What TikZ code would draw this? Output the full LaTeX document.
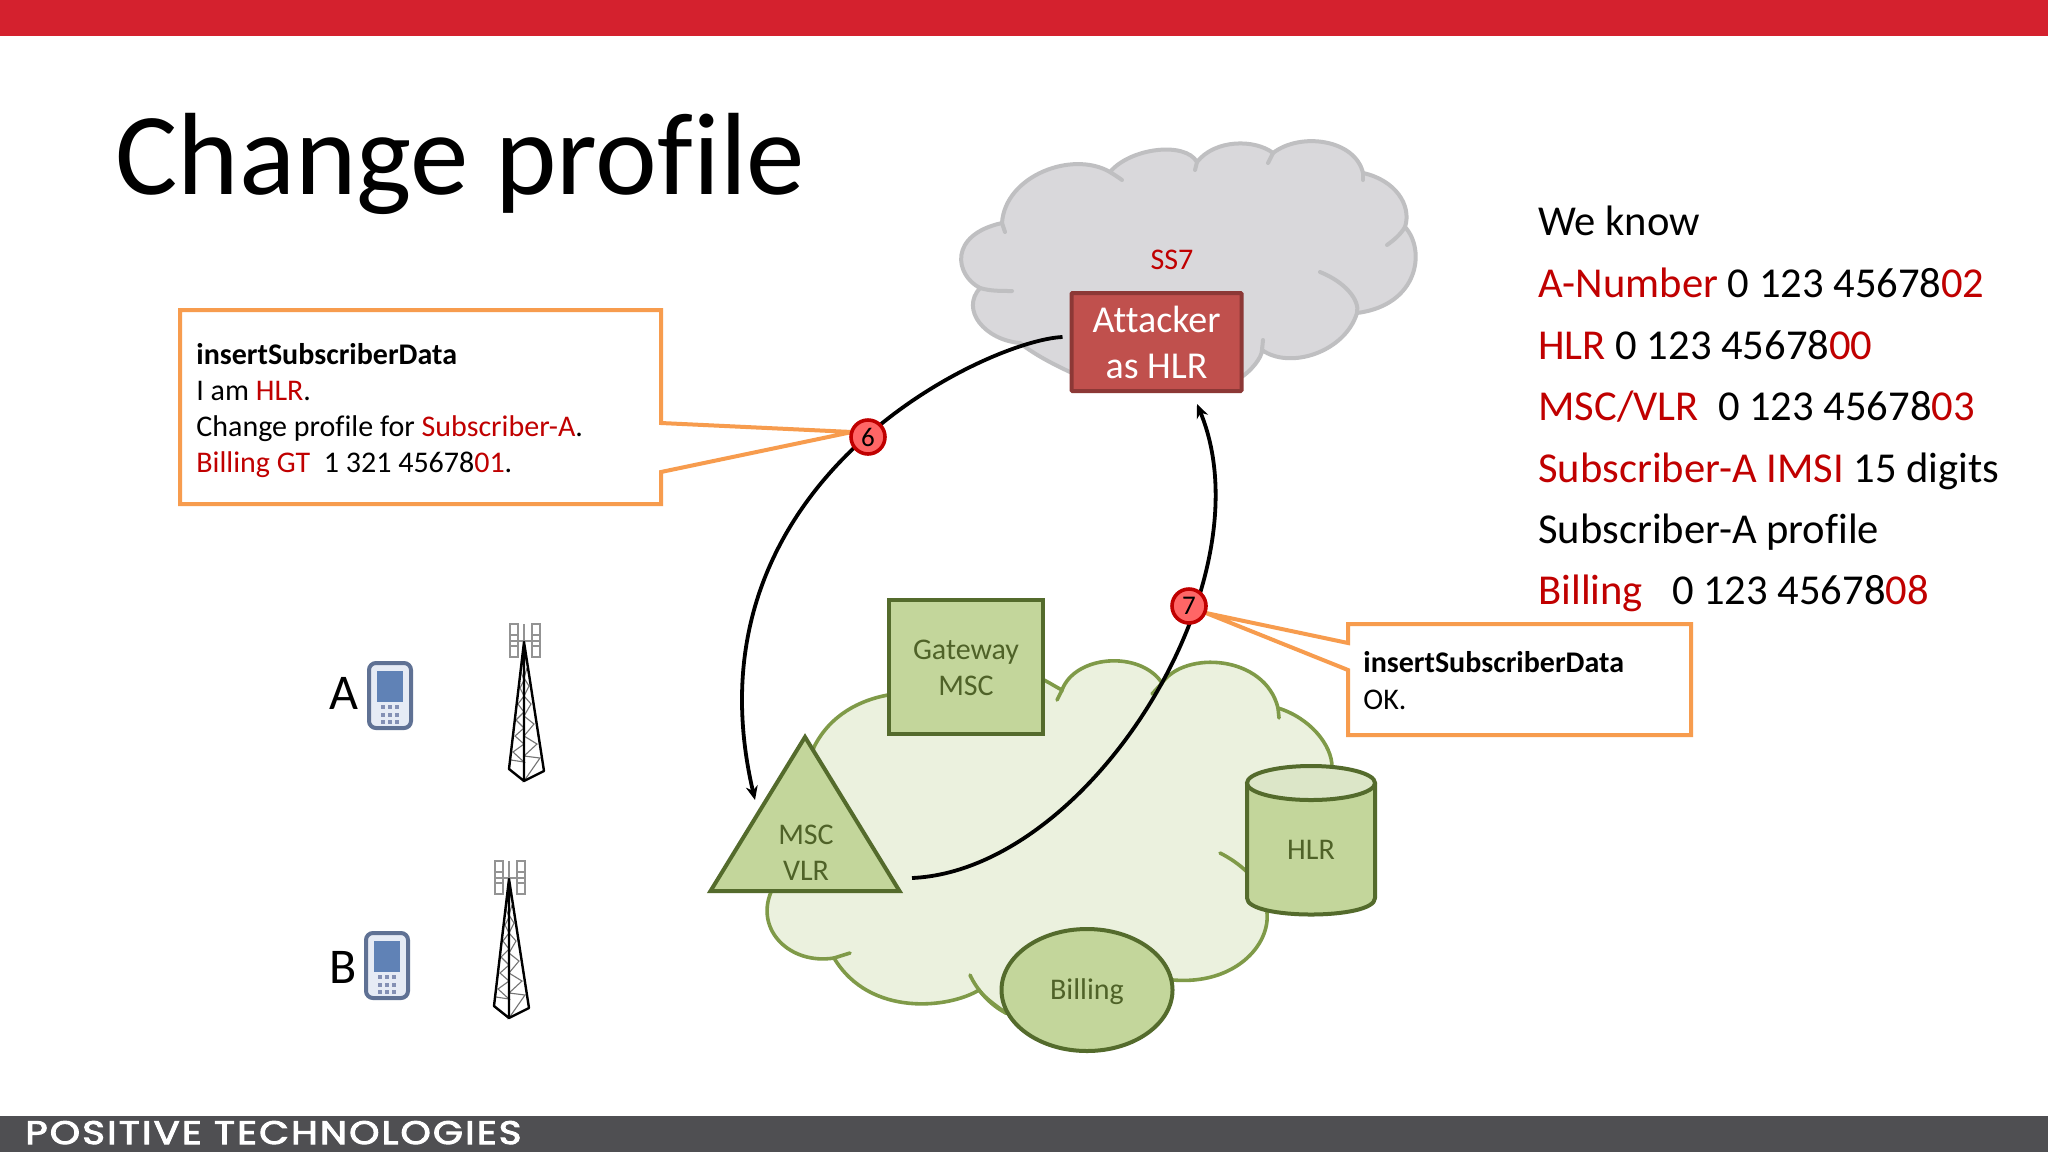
\documentclass[tikz,border=0pt]{standalone}
\usepackage{fontspec}
\usepackage{graphicx}
\setmainfont{Carlito}[Ligatures={NoCommon,TeX}]
\newfontfamily\logofont{Poppins}[FakeBold=3,LetterSpace=6]
\usetikzlibrary{shapes.geometric,arrows.meta}
\definecolor{topred}{HTML}{D4212E}
\definecolor{footgrey}{HTML}{4F4F52}
\definecolor{txtred}{HTML}{C00000}
\definecolor{cloudg}{HTML}{D9D8DB}
\definecolor{cloudgl}{HTML}{BFBFC1}
\definecolor{cloudv}{HTML}{EBF1DE}
\definecolor{cloudvl}{HTML}{7F9A48}
\definecolor{shapev}{HTML}{C3D69B}
\definecolor{shapevtop}{HTML}{DCE6C8}
\definecolor{shapevl}{HTML}{546B2C}
\definecolor{shapetxt}{HTML}{4F6228}
\definecolor{attfill}{HTML}{C0504D}
\definecolor{attline}{HTML}{8C3836}
\definecolor{callout}{HTML}{F79C4E}
\definecolor{badgefill}{HTML}{FF6666}
\definecolor{phoneline}{HTML}{5F7194}
\definecolor{phonefill}{HTML}{E6EBF5}
\definecolor{phonescr}{HTML}{6082B6}
\definecolor{phonekey}{HTML}{8490B4}
\newcommand{\rd}[1]{\textcolor{txtred}{#1}}
\tikzset{
  x=0.5pt,y=-0.5pt,
  greyedge/.style={draw=cloudgl,line width=2pt,line cap=round},
  greenedge/.style={draw=cloudvl,line width=1.8pt,line cap=round},
  equip/.style={draw=shapevl,fill=shapev,line width=2pt,line join=miter},
  equiptext/.style={text=shapetxt,font=\fontsize{15}{18}\selectfont,align=center,inner sep=0pt},
  calloutbox/.style={draw=callout,fill=white,line width=2pt,line join=miter},
  callouttext/.style={anchor=base west,inner sep=0pt,font=\fontsize{15}{17.8}\selectfont},
  known/.style={anchor=base west,inner sep=0pt,font=\fontsize{21.3}{24}\selectfont},
  badge/.style={circle,draw=txtred,fill=badgefill,line width=1.8pt,minimum size=17pt,inner sep=0pt,font=\fontsize{13.5}{13.5}\selectfont},
  signal/.style={draw=black,line width=1.9pt,-{Stealth[length=7pt,width=6pt]}},
  handset/.pic={
    \draw[draw=phoneline,fill=phonefill,line width=2pt,rounded corners=3.5pt] (1,1) rectangle (43,66);
    \fill[phonescr] (9,9) rectangle (35,40);
    \foreach \kx in {15,22,29}\foreach \ky in {45,52.5,60}
      \fill[phonekey] (\kx-2,\ky-2) rectangle (\kx+2,\ky+2);
  },
  mast/.pic={
    \draw[draw=gray!85,line width=.8pt] (-14,-18) rectangle (-6,15) (-14,-7)--(-6,-7) (-14,4)--(-6,4)
       (8,-18) rectangle (16,15) (8,-7)--(16,-7) (8,4)--(16,4)
       (-14,-1)--(16,-1) (0,-18)--(0,0);
    \draw[draw=black!55,line width=.55pt] (-3,30)--(0,38)--(-4,46)--(0,54)--(-6,62)--(0,70)--(-8,78)--(0,86)--(-9,94)--(0,102)--(-11,110)--(0,120)--(-13,118)
       (3,26)--(0,36)--(5,44)--(0,54)--(7,62)--(0,74)--(10,82)--(0,94)--(13,102)--(0,114)--(16,116)--(0,139)--(20,129);
    \draw[draw=black,line width=1.2pt,line join=round] (0,0)--(-15,127)--(0,139)--(20,129)--cycle (0,0)--(0,139);
  }
}
\begin{document}
\begin{tikzpicture}
\useasboundingbox (0,0) rectangle (2048,1152);
\fill[white] (0,0) rectangle (2048,1152);
\fill[topred] (0,0) rectangle (2048,36);
\fill[footgrey] (0,1116) rectangle (2048,1152);
\node[anchor=base west,inner sep=0pt,text=white] (brand) at (25,1144)
  {\resizebox{248pt}{11.5pt}{\logofont POSITIVE TECHNOLOGIES}};
\node[anchor=base west,inner sep=0pt,font=\fontsize{58.5}{60}\selectfont] (title) at (115,194) {Change profile};

% SS7 cloud
\path[fill=cloudg,greyedge]
  (1002,223) .. controls (1005,176) and (1072,150) .. (1110,172)
  .. controls (1130,148) and (1185,141) .. (1197,162)
  .. controls (1215,139) and (1255,139) .. (1273,153)
  .. controls (1300,132) and (1355,139) .. (1363,173)
  .. controls (1395,180) and (1412,205) .. (1405,227)
  .. controls (1426,250) and (1419,305) .. (1357,313)
  .. controls (1345,352) and (1290,370) .. (1262,350)
  .. controls (1262,358) and (1250,372) .. (1240,378)
  -- (1070,372)
  .. controls (1055,365) and (1035,355) .. (1020,343)
  .. controls (985,340) and (960,310) .. (980,288)
  .. controls (955,275) and (948,235) .. (1002,223) -- cycle;
\draw[greyedge] (1110,172) .. controls (1113,174) and (1118,177) .. (1122,180);
\draw[greyedge] (1197,162) -- (1195,170);
\draw[greyedge] (1273,153) -- (1268,163);
\draw[greyedge] (1363,173) -- (1363,180);
\draw[greyedge] (1405,227) .. controls (1400,235) and (1394,240) .. (1387,245);
\draw[greyedge] (1320,272) .. controls (1345,282) and (1360,300) .. (1357,313);
\draw[greyedge] (1262,350) -- (1263,340);
\draw[greyedge] (980,288) .. controls (990,291) and (1000,291) .. (1012,291);
\draw[greyedge] (1002,223) -- (1005,232);
\node[text=txtred,inner sep=0pt,font=\fontsize{15}{15}\selectfont] (ss7) at (1172,260) {SS7};

% home network cloud
\path[fill=cloudv,greenedge]
  (814,747) .. controls (830,715) and (860,700) .. (888,695)
  -- (1044,680) .. controls (1050,683) and (1056,687) .. (1062,690)
  .. controls (1075,655) and (1140,650) .. (1162,683)
  .. controls (1185,650) and (1265,655) .. (1278,708)
  .. controls (1310,718) and (1332,745) .. (1332,767)
  -- (1267,913)
  .. controls (1270,945) and (1235,985) .. (1173,980)
  -- (1006,1013)
  .. controls (995,1005) and (985,998) .. (979,990)
  .. controls (950,1008) and (870,1018) .. (834,958)
  .. controls (790,965) and (755,930) .. (771,892)
  -- cycle;
\draw[greenedge] (1062,690) -- (1057,700);
\draw[greenedge] (1162,683) -- (1152,694);
\draw[greenedge] (1278,708) -- (1279,718);
\draw[greenedge] (1220,853) .. controls (1230,858) and (1240,865) .. (1247,872);
\draw[greenedge] (1006,1013) .. controls (990,1005) and (977,990) .. (970,975);
\draw[greenedge] (834,958) -- (850,953);

% equipment
\node[equip,minimum width=77pt,minimum height=67pt,inner sep=0pt] (gw) at (966,667) {};
\node[equiptext] (gwt) at (966,668) {Gateway\\MSC};
\node[equip,isosceles triangle,shape border rotate=90,isosceles triangle stretches,
      minimum width=94.5pt,minimum height=77pt,inner sep=0pt,outer sep=0pt,anchor=apex] (msc) at (805,737) {};
\node[equiptext] (msct) at (806,853) {MSC\\VLR};
\draw[equip,line join=round] (1247,783) -- (1247,898) .. controls (1247,920) and (1375,920) .. (1375,898) -- (1375,783) -- cycle;
\node[equip,fill=shapevtop,ellipse,minimum width=64pt,minimum height=17pt,inner sep=0pt,outer sep=0pt] (hlrtop) at (1311,783) {};
\node[equiptext] (hlrt) at (1311,850) {HLR};
\node[equip,ellipse,minimum width=85.5pt,minimum height=61pt,inner sep=0pt] (bill) at (1087,990) {};
\node[equiptext] (billt) at (1087,992) {Billing};
\node[draw=attline,fill=attfill,line width=2pt,minimum width=85pt,minimum height=49pt,inner sep=0pt,
      rounded corners=.5pt,text=white,align=center,font=\fontsize{19}{23}\selectfont] (att) at (1156.5,342) {Attacker\\as HLR};

% signalling arcs
\draw[signal] ([shift={(-7,-5)}]att.west) .. controls (990,340) and (680,480) .. ([shift={(-50,63)}]msc.apex);
\draw[signal] ([shift={(107,141)}]msc.apex) .. controls (1090,870) and (1270,580) .. ([shift={(40.5,11)}]att.south);

% callouts
\draw[calloutbox] (180,310) -- (661,310) -- (661,423) -- (852,432) -- (661,472) -- (661,504) -- (180,504) -- cycle;
\node[callouttext] (c6a) at (196,364) {\textbf{insertSubscriberData}};
\node[callouttext] (c6b) at (196,400) {I am \rd{HLR}.};
\node[callouttext] (c6c) at (196,436) {Change profile for \rd{Subscriber-A}.};
\node[callouttext] (c6d) at (196,472) {\rd{Billing GT}\ \ 1 321 45678\rd{01}.};
\draw[calloutbox] (1348,624) -- (1691,624) -- (1691,735) -- (1348,735) -- (1348,670) -- (1206,613) -- (1348,643) -- cycle;
\node[callouttext] (c7a) at (1363,672) {\textbf{insertSubscriberData}};
\node[callouttext] (c7b) at (1363,709) {OK.};
\node[badge] (b6) at (868,437) {6};
\node[badge] (b7) at (1189,606) {7};

% right-hand list
\node[known] (k1) at (1538,235.5) {We know};
\node[known] (k2) at (1538,297.5) {\rd{A-Number} 0 123 45678\rd{02}};
\node[known] (k3) at (1538,359.5) {\rd{HLR} 0 123 45678\rd{00}};
\node[known] (k4) at (1538,420.5) {\rd{MSC/VLR}\ \ 0 123 45678\rd{03}};
\node[known] (k5) at (1538,482.5) {\rd{Subscriber-A IMSI} 15 digits};
\node[known] (k6) at (1538,543.5) {Subscriber-A profile};
\node[known] (k7) at (1538,604.5) {\rd{Billing}\ \ \ 0 123 45678\rd{08}};

% subscribers
\node[anchor=base west,inner sep=0pt,font=\fontsize{25}{25}\selectfont] (la) at (329,709) {A};
\node[anchor=base west,inner sep=0pt,font=\fontsize{25}{25}\selectfont] (lb) at (329,983) {B};
\pic at (368,662) {handset};
\pic at (365,932) {handset};
\pic at (524,642) {mast};
\pic at (509,879) {mast};
\end{tikzpicture}
\end{document}
